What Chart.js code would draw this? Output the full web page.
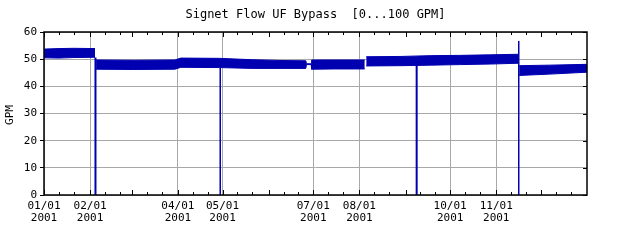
<!DOCTYPE html>
<html>
<head>
<meta charset="utf-8">
<script src="https://cdn.jsdelivr.net/npm/chart.js@4"></script>
<style>
  html, body { margin: 0; padding: 0; background: #fff; }
  #wrap { width: 640px; height: 240px; }
</style>
</head>
<body>
<div id="wrap"><canvas id="flowChart" width="640" height="240"></canvas></div>
<script>
// Day of year (2001) for the noisy band, with its top and bottom edge in GPM.
// null splits the band where the record has a break.
const bandDays = [0, 10, 20, 34.3, null, 35, 60, 88, 92, 118, 140, 160, 176, 176.4, 179.6, 179.9, 195, 215.6, null, 216.6, 240, 260, 280, 300, 318.8, null, 319.4, 340, 365];
const bandHigh = [53.7, 53.9, 54.0, 53.9, null, 49.7, 49.6, 49.7, 50.4, 50.3, 49.8, 49.5, 49.4, 48.3, 48.3, 49.7, 49.7, 49.7, null, 50.9, 51.0, 51.3, 51.4, 51.6, 51.8, null, 47.6, 47.8, 48.1];
const bandLow  = [50.5, 50.4, 50.6, 50.7, null, 46.3, 46.2, 46.3, 47.0, 46.9, 46.6, 46.6, 46.6, 48.0, 48.0, 46.3, 46.4, 46.4, null, 47.5, 47.6, 47.8, 48.0, 48.2, 48.5, null, 44.0, 44.5, 45.2];

// Short outages where flow fell to zero (day, value just before the drop)
const dropDays = [34.6, 118.5, 250.5, 319.1];
const dropTop  = [50.6, 48.0, 49.0, 56.7];
const dropBold = [true, false, true, false];

// x axis labels
const labelDays = [0, 31, 90, 120, 181, 212, 273, 304];
const labelText = ['01/01', '02/01', '04/01', '05/01', '07/01', '08/01', '10/01', '11/01'];
const yearText = '2001';
const monthStarts = [0, 31, 59, 90, 120, 151, 181, 212, 243, 273, 304, 334];

const titleText = 'Signet Flow UF Bypass  [0...100 GPM]';
const yTitle = 'GPM';

const blue = '#0000b0';
const gridGray = '#a8a8a8';
const monoFont = '"DejaVu Sans Mono", "Liberation Mono", monospace';

function toPoints(xs, ys) {
    return xs.map(function(x, i) {
        return { x: x, y: ys[i] };
    });
}

function dropPoints(bold) {
    const pts = [];
    dropDays.forEach(function(d, i) {
        if (dropBold[i] !== bold) return;
        if (pts.length) pts.push({ x: d, y: null });
        pts.push({ x: d, y: dropTop[i] });
        pts.push({ x: d, y: 0 });
    });
    return pts;
}

// extra decorations: title, y title, border, inward ticks
const framePlugin = {
    id: 'frame',
    afterDraw: function(chart) {
        const ctx = chart.ctx;
        const a = chart.chartArea;
        const xs = chart.scales.x;
        const ys = chart.scales.y;
        ctx.save();
        ctx.strokeStyle = '#000';
        ctx.lineWidth = 1;

        // minor ticks on 1st, 11th, 21st of each month
        monthStarts.forEach(function(m) {
            [0, 10, 20].forEach(function(off) {
                const d = m + off;
                if (d > 365) return;
                const x = Math.round(xs.getPixelForValue(d)) + 0.5;
                const len = off === 0 ? 5 : 3;
                ctx.beginPath();
                ctx.moveTo(x, a.bottom);
                ctx.lineTo(x, a.bottom - len);
                ctx.moveTo(x, a.top);
                ctx.lineTo(x, a.top + len);
                ctx.stroke();
            });
        });

        // right side ticks pointing in
        for (let v = 0; v <= 60; v += 10) {
            const y = Math.round(ys.getPixelForValue(v)) + 0.5;
            ctx.beginPath();
            ctx.moveTo(a.right, y);
            ctx.lineTo(a.right - 4, y);
            ctx.stroke();
        }

        ctx.lineWidth = 1.5;
        ctx.strokeRect(a.left, a.top, a.right - a.left, a.bottom - a.top);

        ctx.fillStyle = '#000';
        ctx.font = '12px ' + monoFont;
        ctx.textAlign = 'center';
        ctx.textBaseline = 'middle';
        ctx.fillText(titleText, (a.left + a.right) / 2, 15);

        ctx.font = '11px ' + monoFont;
        ctx.translate(10, 115);
        ctx.rotate(-Math.PI / 2);
        ctx.fillText(yTitle, 0, 0);
        ctx.restore();
    }
};

document.addEventListener('DOMContentLoaded', function() {
    const ctx = document.getElementById('flowChart').getContext('2d');

    new Chart(ctx, {
        type: 'line',
        data: {
            datasets: [
                {
                    label: 'high',
                    data: toPoints(bandDays, bandHigh),
                    borderColor: blue,
                    backgroundColor: blue,
                    borderWidth: 1,
                    pointRadius: 0,
                    fill: '+1',
                    spanGaps: false
                },
                {
                    label: 'low',
                    data: toPoints(bandDays, bandLow),
                    borderColor: blue,
                    backgroundColor: blue,
                    borderWidth: 1,
                    pointRadius: 0,
                    fill: false,
                    spanGaps: false
                },
                {
                    label: 'drops bold',
                    data: dropPoints(true),
                    borderColor: blue,
                    borderWidth: 2,
                    pointRadius: 0,
                    fill: false,
                    spanGaps: false
                },
                {
                    label: 'drops',
                    data: dropPoints(false),
                    borderColor: blue,
                    borderWidth: 1,
                    pointRadius: 0,
                    fill: false,
                    spanGaps: false
                }
            ]
        },
        options: {
            responsive: false,
            animation: false,
            devicePixelRatio: 1,
            layout: {
                padding: { top: 32, right: 53, left: 0, bottom: 0 }
            },
            plugins: {
                legend: { display: false },
                tooltip: { enabled: false },
                title: { display: false }
            },
            scales: {
                x: {
                    type: 'linear',
                    min: 0,
                    max: 365,
                    afterBuildTicks: function(scale) {
                        scale.ticks = labelDays.map(function(d) { return { value: d }; });
                    },
                    afterFit: function(scale) {
                        scale.height = 45;
                    },
                    grid: {
                        color: gridGray,
                        drawTicks: false
                    },
                    border: { display: false },
                    ticks: {
                        autoSkip: false,
                        maxRotation: 0,
                        padding: 5,
                        color: '#000',
                        font: { family: monoFont, size: 11, lineHeight: 1.1 },
                        callback: function(value) {
                            const i = labelDays.indexOf(value);
                            return i < 0 ? '' : [labelText[i], yearText];
                        }
                    }
                },
                y: {
                    min: 0,
                    max: 60,
                    afterFit: function(scale) {
                        scale.width = 44;
                    },
                    grid: {
                        color: gridGray,
                        tickColor: '#000',
                        tickLength: 4
                    },
                    border: { display: false },
                    ticks: {
                        stepSize: 10,
                        padding: 3,
                        color: '#000',
                        font: { family: monoFont, size: 11 }
                    }
                }
            }
        },
        plugins: [framePlugin]
    });
});
</script>
</body>
</html>
